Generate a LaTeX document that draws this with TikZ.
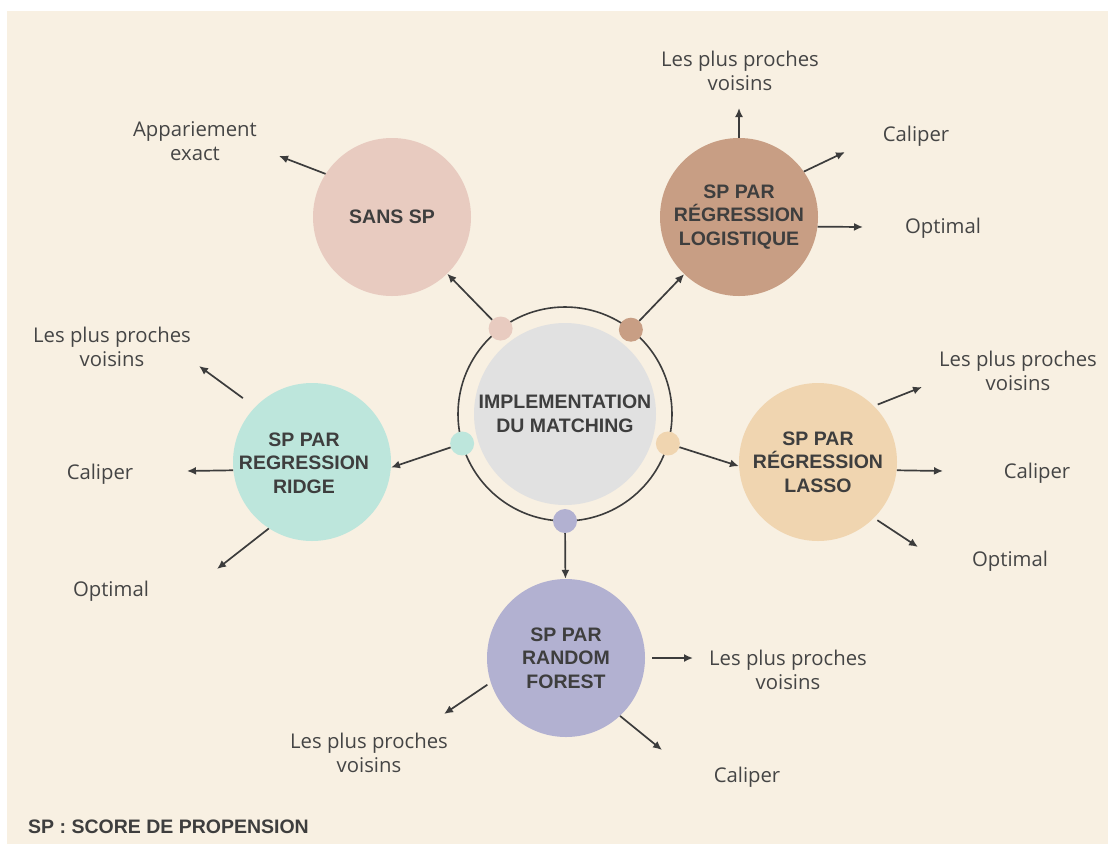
\documentclass[tikz,border=0pt]{standalone}
\usepackage{fontspec}
\setmainfont{Open Sans}
\newfontfamily\titlefont{Liberation Sans}
\usetikzlibrary{arrows.meta}

\definecolor{bgcol}{HTML}{F8F0E2}
\definecolor{coregray}{HTML}{E1E1E1}
\definecolor{sanscol}{HTML}{E8CBC0}
\definecolor{logitcol}{HTML}{C89E84}
\definecolor{ridgecol}{HTML}{BDE6DC}
\definecolor{lassocol}{HTML}{F0D5B0}
\definecolor{forestcol}{HTML}{B2B1D1}
\definecolor{linecol}{HTML}{3C3C3C}
\definecolor{textcol}{HTML}{454545}
\definecolor{titlecol}{HTML}{3E3E3E}

\tikzset{
  titletext/.style = {text=titlecol, align=center, inner sep=0pt,
    font=\titlefont\bfseries\fontsize{19.5}{23.5}\selectfont},
  satcircle/.style = {circle, minimum size=158pt, inner sep=0pt, titletext},
  ringdot/.style = {circle, minimum size=24pt, inner sep=0pt},
  leaflabel/.style = {text=textcol, align=center, inner sep=0pt,
    font=\fontsize{20.3}{24}\selectfont},
  linkarrow/.style = {-{Latex[length=9pt, width=8pt]}, line width=1.7pt, linecol},
}

\begin{document}
\begin{tikzpicture}[x=1pt, y=-1pt]

% Page and background
\useasboundingbox ( 0, 0 ) rectangle ( 1108, 844 );
\fill [white] ( 0, 0 ) rectangle ( 1108, 844 );
\fill [bgcol] ( 7, 11 ) rectangle ( 1108, 844 );

% Centre: ring and core
\node (ring) at ( 565, 414 ) [circle, draw=linecol, line width=1.6pt, outer sep=0pt, minimum size=214pt] {};
\node (core) at ( 565, 414 ) [satcircle, fill=coregray, minimum size=182pt] {IMPLEMENTATION\\DU MATCHING};

% Methods
\node (sans) at ( 392, 217 ) [satcircle, fill=sanscol] {SANS SP};
\node (logit) at ( 739, 217 ) [satcircle, fill=logitcol] {SP PAR\\RÉGRESSION\\LOGISTIQUE};
\node (ridge) at ( 312, 462 ) [satcircle, fill=ridgecol] {};
\node (ridgetext) at ( 304, 463 ) [titletext] {SP PAR\\REGRESSION\\RIDGE};
\node (lasso) at ( 818, 462 ) [satcircle, fill=lassocol] {SP PAR\\RÉGRESSION\\LASSO};
\node (forest) at ( 566, 658 ) [satcircle, fill=forestcol] {SP PAR\\RANDOM\\FOREST};

% Dots on the ring
\node (sansdot) at ( ring.127 ) [ringdot, fill=sanscol] {};
\node (logitdot) at ( ring.52 ) [ringdot, fill=logitcol] {};
\node (ridgedot) at ( ring.196 ) [ringdot, fill=ridgecol] {};
\node (lassodot) at ( ring.-16 ) [ringdot, fill=lassocol] {};
\node (forestdot) at ( ring.-90 ) [ringdot, fill=forestcol] {};

% Links from the ring
\path [linkarrow] (sansdot) edge (sans);
\path [linkarrow] (logitdot) edge (logit);
\path [linkarrow] (ridgedot) edge (ridge.-4);
\path [linkarrow] (lassodot) edge (lasso.183);
\path [linkarrow] (forestdot) edge (forest);

% Sans SP
\node (sansexact) at ( 195, 141 ) [leaflabel] {Appariement\\exact};
\coordinate (sansexactend) at ( 279, 156 );
\path [linkarrow] (sans.147) edge (sansexactend);

% Logistique
\node (logitnn) at ( 740, 71 ) [leaflabel] {Les plus proches\\voisins};
\coordinate (logitnnend) at ( 739, 108 );
\path [linkarrow] (logit.north) edge (logitnnend);
\node (logitcal) at ( 916, 136 ) [leaflabel] {Caliper};
\coordinate (logitcalend) at ( 845, 152 );
\path [linkarrow] (logit.35) edge (logitcalend);
\node (logitopt) at ( 943, 228 ) [leaflabel] {Optimal};
\coordinate (logitoptend) at ( 863, 227 );
\path [linkarrow] (logit.-7) edge (logitoptend);

% Ridge
\node (ridgenn) at ( 112, 347 ) [leaflabel] {Les plus proches\\voisins};
\coordinate (ridgennend) at ( 199, 366 );
\path [linkarrow, shorten <=15pt] (ridge.136) edge (ridgennend);
\node (ridgecal) at ( 100, 474 ) [leaflabel] {Caliper};
\coordinate (ridgecalend) at ( 187, 471 );
\path [linkarrow] (ridge.186) edge (ridgecalend);
\node (ridgeopt) at ( 111, 591 ) [leaflabel] {Optimal};
\coordinate (ridgeoptend) at ( 217, 569 );
\path [linkarrow] (ridge.237) edge (ridgeoptend);

% Lasso
\node (lassonn) at ( 1018, 371 ) [leaflabel] {Les plus proches\\voisins};
\coordinate (lassonnend) at ( 922, 387 );
\path [linkarrow, shorten <=4pt] (lasso.45) edge (lassonnend);
\node (lassocal) at ( 1037, 473 ) [leaflabel] {Caliper};
\coordinate (lassocalend) at ( 943, 471 );
\path [linkarrow] (lasso.-6) edge (lassocalend);
\node (lassoopt) at ( 1010, 561 ) [leaflabel] {Optimal};
\coordinate (lassooptend) at ( 918, 547 );
\path [linkarrow, shorten <=4pt] (lasso.-45) edge (lassooptend);

% Random forest
\node (forestnn) at ( 788, 670 ) [leaflabel] {Les plus proches\\voisins};
\coordinate (forestnnend) at ( 693, 658 );
\path [linkarrow, shorten <=7pt] (forest.east) edge (forestnnend);
\node (forestnnb) at ( 369, 753 ) [leaflabel] {Les plus proches\\voisins};
\coordinate (forestnnbend) at ( 444, 714 );
\path [linkarrow, shorten <=4pt] (forest.198) edge (forestnnbend);
\node (forestcal) at ( 747, 777 ) [leaflabel] {Caliper};
\coordinate (forestcalend) at ( 662, 750 );
\path [linkarrow] (forest.-47) edge (forestcalend);

% Legend
\node (legend) at ( 28, 827 ) [titletext, anchor=west] {SP : SCORE DE PROPENSION};

\end{tikzpicture}
\end{document}
